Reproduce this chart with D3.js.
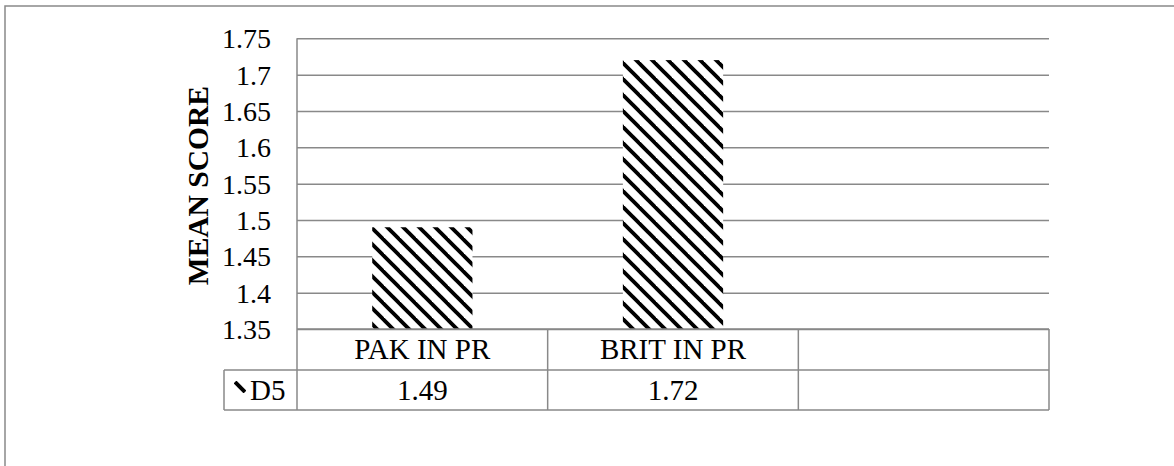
<!DOCTYPE html>
<html>
<head>
<meta charset="utf-8">
<script src="https://cdn.jsdelivr.net/npm/d3@7/dist/d3.min.js"></script>
<style>
  html, body { margin: 0; padding: 0; background: #fff; }
  svg { display: block; }
  text { font-family: "Liberation Serif", "Times New Roman", serif; fill: #000; }
</style>
</head>
<body>
<script>
// Mean scores for item D5, by group
const categories = ["PAK IN PR", "BRIT IN PR", ""];
const seriesName = "D5";
const values = [1.49, 1.72, null];
const yTicks = [1.35, 1.4, 1.45, 1.5, 1.55, 1.6, 1.65, 1.7, 1.75];
const yTitle = "MEAN SCORE";

const W = 1174, H = 466;
const plot = { left: 297, right: 1049, top: 38.3, bottom: 329 };
const rowH = [41, 40];          // data table: category row, value row
const keyLeft = 224;            // left edge of the legend-key cell
const grid = "#898989";
const serif = "'Liberation Serif', 'Times New Roman', serif";
const tickSize = 28, tableSize = 29, titleSize = 29.5;

const svg = d3.select("body").append("svg").attr("width", W).attr("height", H);

// hatch fill: dark downward diagonal
const defs = svg.append("defs");
const pat = defs.append("pattern")
  .attr("id", "hatch").attr("patternUnits", "userSpaceOnUse")
  .attr("width", 16).attr("height", 16);
pat.append("rect").attr("width", 16).attr("height", 16).attr("fill", "#fff");
[[-8, 8, 8, 24], [0, 0, 16, 16], [8, -8, 24, 8]].forEach(([x1, y1, x2, y2]) =>
  pat.append("line").attr("x1", x1).attr("y1", y1).attr("x2", x2).attr("y2", y2)
    .attr("stroke", "#000").attr("stroke-width", 3.8));

const keyPat = defs.append("pattern")
  .attr("id", "hatchKey").attr("patternUnits", "userSpaceOnUse")
  .attr("x", 234).attr("y", 381).attr("width", 12).attr("height", 12);
keyPat.append("rect").attr("width", 12).attr("height", 12).attr("fill", "#fff");
keyPat.append("line").attr("x1", 1).attr("y1", 1).attr("x2", 11).attr("y2", 11)
  .attr("stroke", "#000").attr("stroke-width", 4);

// outer chart frame
svg.append("rect")
  .attr("x", 5).attr("y", 6).attr("width", W + 20).attr("height", H + 20)
  .attr("fill", "none").attr("stroke", grid).attr("stroke-width", 1.5);

const x = d3.scaleBand().domain(categories).range([plot.left, plot.right]).padding(0);
const y = d3.scaleLinear().domain([d3.min(yTicks), d3.max(yTicks)]).range([plot.bottom, plot.top]);

// value axis with gridlines
const yAxis = svg.append("g")
  .attr("transform", `translate(${plot.left},0)`)
  .call(d3.axisLeft(y)
    .tickValues(yTicks)
    .tickFormat(d3.format("~g"))
    .tickSize(-(plot.right - plot.left))
    .tickPadding(26));
yAxis.attr("font-family", serif).attr("font-size", tickSize);
yAxis.select(".domain").remove();
yAxis.selectAll(".tick line").attr("stroke", grid).attr("stroke-width", 1.5);
yAxis.selectAll(".tick text")
  .attr("font-size", tickSize)
  .attr("font-family", serif)
  .attr("fill", "#000")
  .attr("dy", "0.34em");

// bars
const barW = x.bandwidth() * 0.4;
svg.append("g").selectAll("rect")
  .data(categories.map((c, i) => ({ c, v: values[i] })).filter(d => d.v != null))
  .join("rect")
  .attr("x", d => x(d.c) + (x.bandwidth() - barW) / 2)
  .attr("y", d => y(d.v))
  .attr("width", barW)
  .attr("height", d => y(y.domain()[0]) - y(d.v))
  .attr("fill", "url(#hatch)");

// data table
const t = svg.append("g").attr("stroke", grid).attr("stroke-width", 1.5).attr("fill", "none");
const r0 = plot.bottom, r1 = r0 + rowH[0], r2 = r1 + rowH[1];
t.append("line").attr("x1", plot.left).attr("x2", plot.right).attr("y1", r0).attr("y2", r0);
t.append("line").attr("x1", keyLeft).attr("x2", plot.right).attr("y1", r1).attr("y2", r1);
t.append("line").attr("x1", keyLeft).attr("x2", plot.right).attr("y1", r2).attr("y2", r2);
t.append("line").attr("x1", plot.left).attr("x2", plot.left).attr("y1", plot.top).attr("y2", r2);
t.append("line").attr("x1", keyLeft).attr("x2", keyLeft).attr("y1", r1).attr("y2", r2);
categories.forEach(c => {
  const xr = x(c) + x.bandwidth();
  t.append("line").attr("x1", xr).attr("x2", xr).attr("y1", r0).attr("y2", r2);
});

const txt = svg.append("g").attr("font-size", tableSize).attr("font-family", serif).attr("text-anchor", "middle");
categories.forEach((c, i) => {
  const cx = x(c) + x.bandwidth() / 2;
  txt.append("text").attr("x", cx).attr("y", (r0 + r1) / 2).attr("dy", "0.34em").text(c);
  if (values[i] != null)
    txt.append("text").attr("x", cx).attr("y", (r1 + r2) / 2).attr("dy", "0.34em").text(d3.format("~g")(values[i]));
});

// legend key + series name
svg.append("rect").attr("x", 234).attr("y", 381).attr("width", 12).attr("height", 12)
  .attr("fill", "url(#hatchKey)");
svg.append("text").attr("x", 250).attr("y", (r1 + r2) / 2).attr("dy", "0.34em")
  .attr("font-size", tableSize).attr("font-family", serif).text(seriesName);

// value-axis title
svg.append("text")
  .attr("transform", `translate(198,${(plot.top + plot.bottom) / 2 + 2}) rotate(-90)`)
  .attr("text-anchor", "middle").attr("dy", "0.34em")
  .attr("font-size", titleSize).attr("font-weight", "bold").attr("font-family", serif)
  .text(yTitle);
</script>
</body>
</html>
